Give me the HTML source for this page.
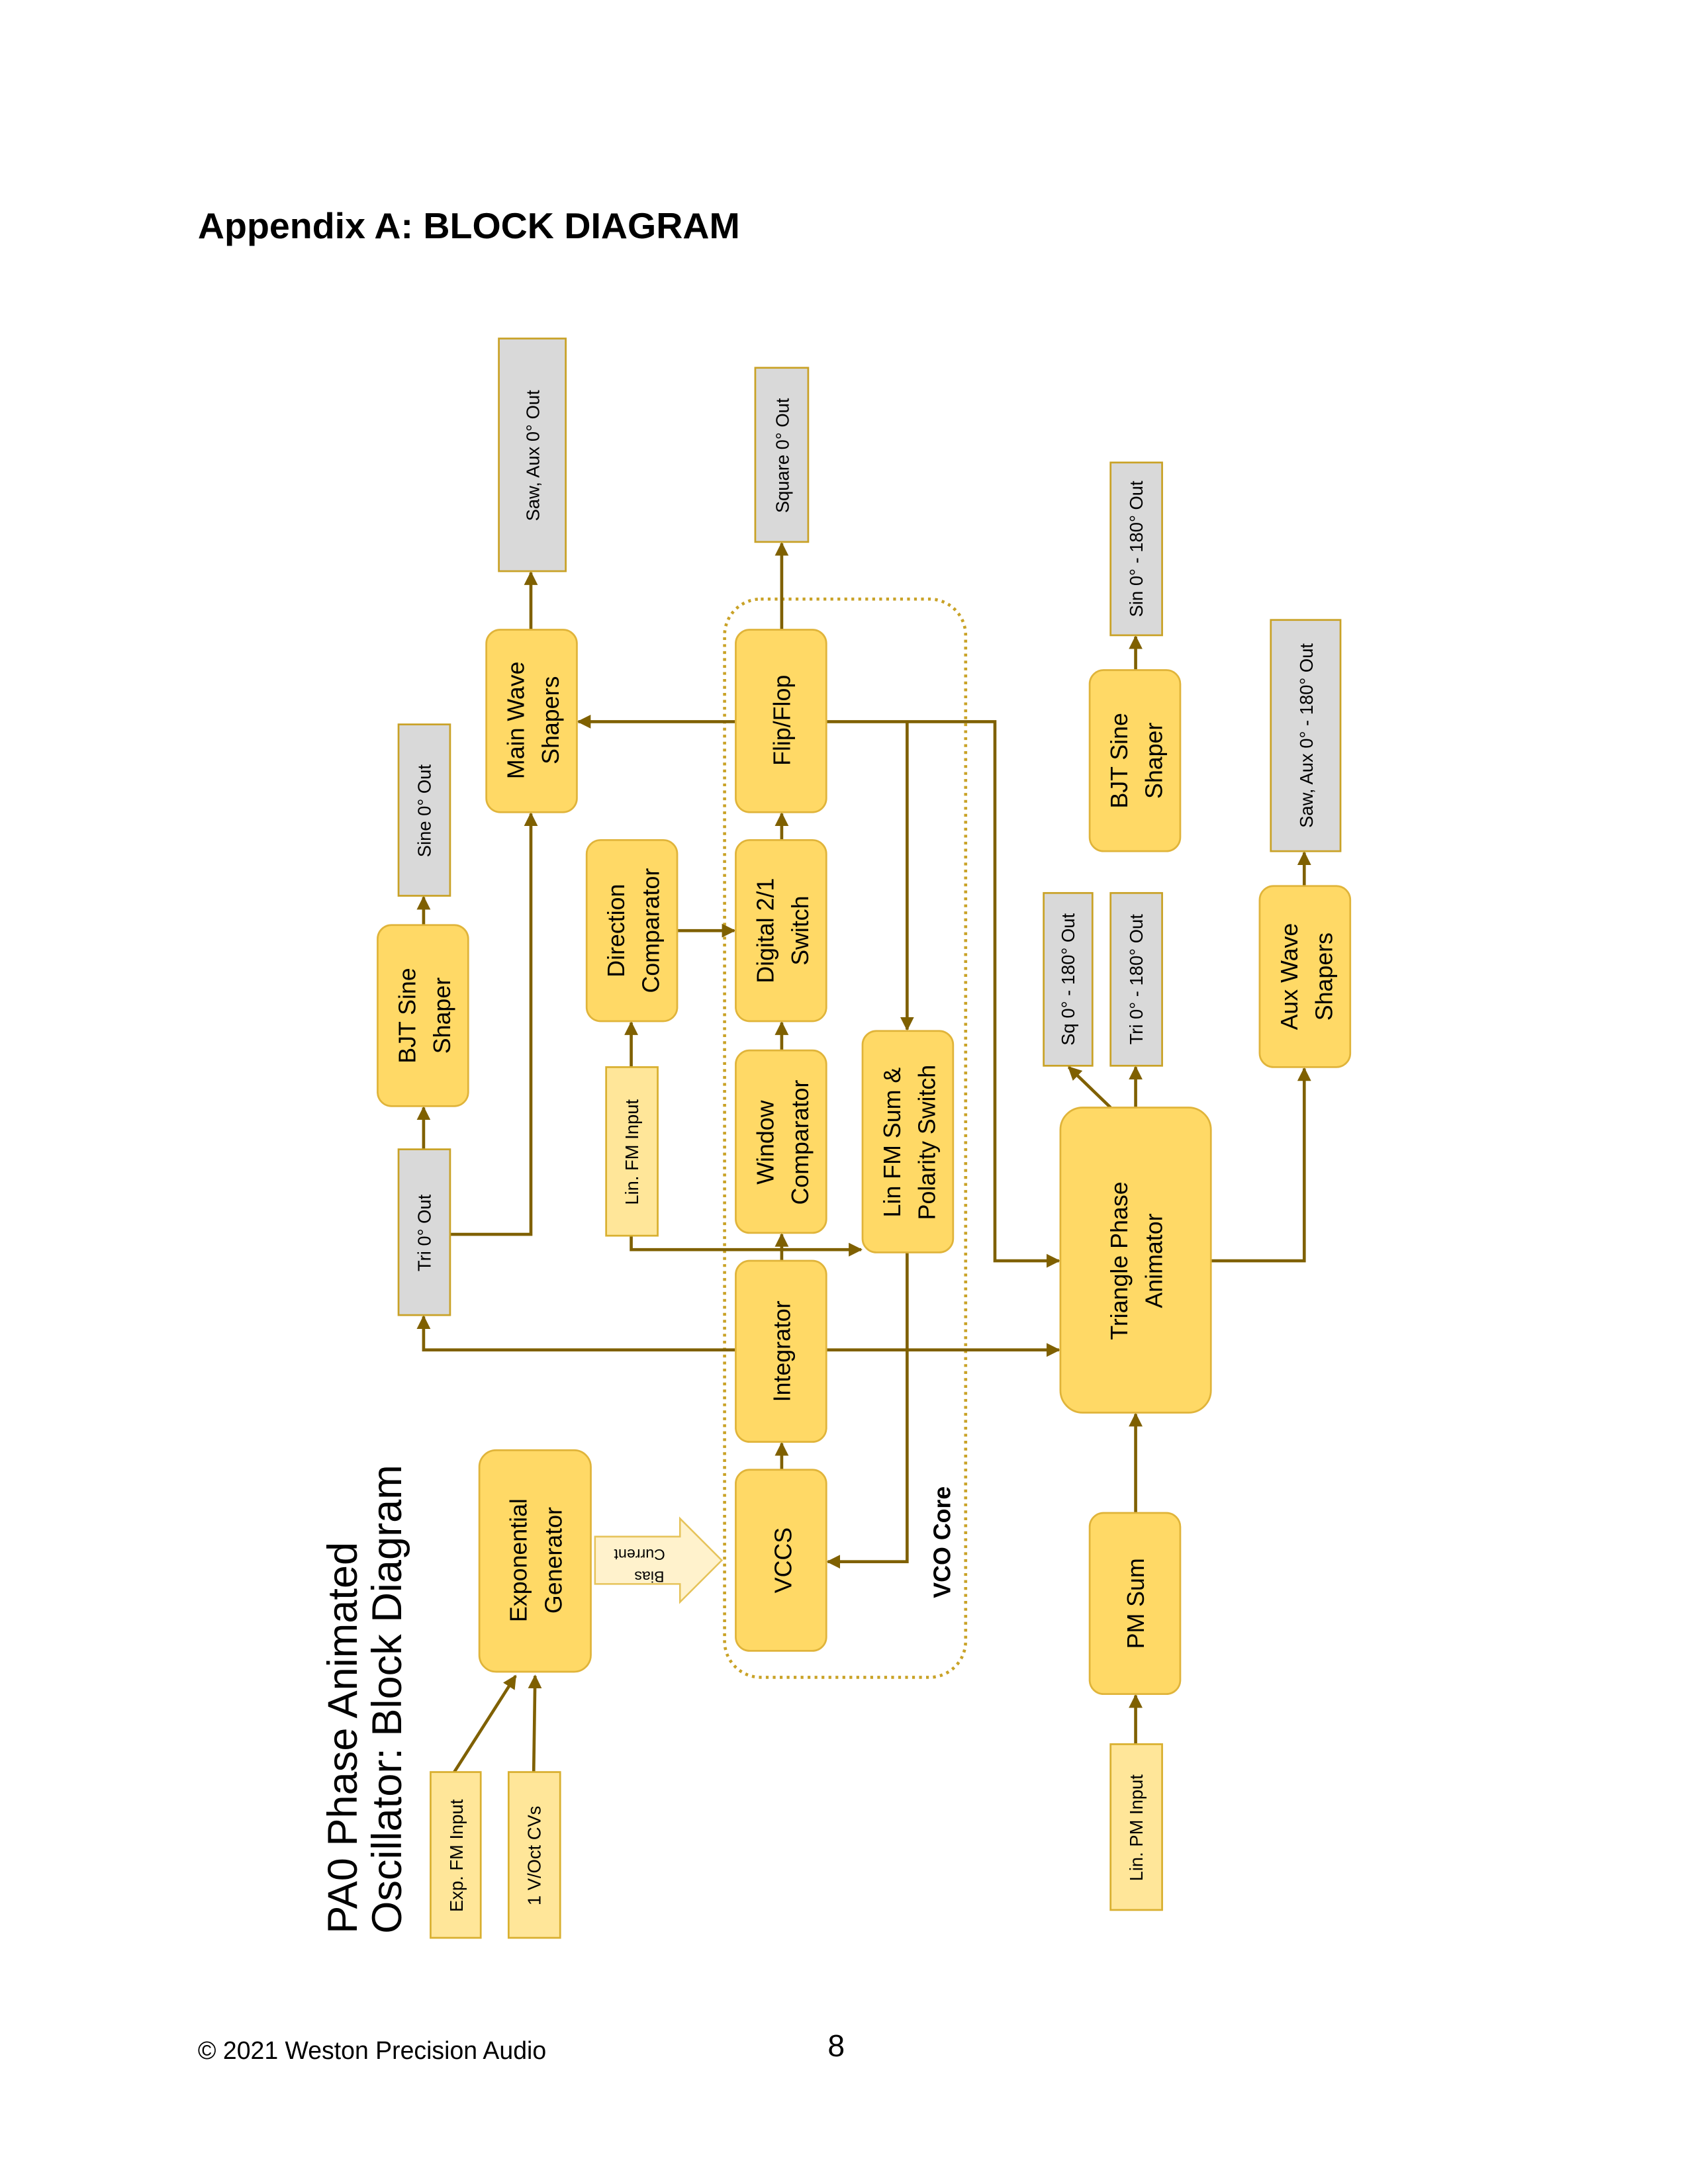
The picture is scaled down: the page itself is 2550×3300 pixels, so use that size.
<!DOCTYPE html>
<html><head><meta charset="utf-8"><style>html,body{margin:0;padding:0;background:#fff}svg{display:block}</style></head>
<body>
<svg width="2550" height="3300" viewBox="0 0 1211.4 1567.7" preserveAspectRatio="none" xmlns="http://www.w3.org/2000/svg" font-family="Liberation Sans, sans-serif">
<defs>
<marker id="a" viewBox="0 0 10 10" refX="9" refY="5" markerWidth="4.5" markerHeight="4.5" orient="auto"><path d="M0,0L10,5L0,10z" fill="#7f6000"/></marker>
</defs>
<text x="142" y="171" font-size="26" font-weight="bold" textLength="389" lengthAdjust="spacingAndGlyphs">Appendix A: BLOCK DIAGRAM</text>
<text x="142" y="1478" font-size="18" textLength="250" lengthAdjust="spacingAndGlyphs">© 2021 Weston Precision Audio</text>
<text x="594" y="1476" font-size="22">8</text>

<!-- VCO core -->
<rect x="520" y="430" width="173" height="774" rx="26" fill="none" stroke="#c9a227" stroke-width="2.2" stroke-dasharray="2,3"/>
<text transform="translate(682,1107) rotate(-90)" font-size="17" font-weight="bold" text-anchor="middle">VCO Core</text>

<!-- title -->
<text transform="translate(256,1388) rotate(-90)" font-size="30">PA0 Phase Animated</text>
<text transform="translate(288,1388) rotate(-90)" font-size="30">Oscillator:  Block Diagram</text>

<g stroke="#7f6000" stroke-width="2.2" fill="none" marker-end="url(#a)">
<line x1="381" y1="452" x2="381" y2="411"/>
<line x1="561" y1="452" x2="561" y2="390"/>
<line x1="815" y1="481" x2="815" y2="457"/>
<line x1="936" y1="636" x2="936" y2="612"/>
<line x1="304" y1="664" x2="304" y2="644"/>
<line x1="304" y1="825" x2="304" y2="795"/>
<polyline points="323,886 381,886 381,584"/>
<line x1="528" y1="518" x2="415" y2="518"/>
<polyline points="593,518 714,518 714,905 760,905"/>
<polyline points="651,518 651,739"/>
<line x1="486" y1="668" x2="527" y2="668"/>
<line x1="561" y1="603" x2="561" y2="584"/>
<line x1="561" y1="754" x2="561" y2="734"/>
<line x1="453" y1="766" x2="453" y2="734"/>
<polyline points="453,887 453,897 618,897"/>
<line x1="561" y1="905" x2="561" y2="886"/>
<polyline points="528,969 304,969 304,945"/>
<line x1="593" y1="969" x2="760" y2="969"/>
<polyline points="651,899 651,1121 594,1121"/>
<line x1="561" y1="1055" x2="561" y2="1036"/>
<line x1="797" y1="795" x2="767" y2="766"/>
<line x1="815" y1="795" x2="815" y2="766"/>
<polyline points="869,905 936,905 936,767"/>
<line x1="815" y1="1086" x2="815" y2="1015"/>
<line x1="815" y1="1252" x2="815" y2="1217"/>
<line x1="326" y1="1272" x2="370" y2="1203"/>
<line x1="383" y1="1272" x2="384" y2="1203"/>
</g>

<!-- bias arrow -->
<path d="M427,1103 L488,1103 L488,1090 L518,1120 L488,1150 L488,1137 L427,1137 Z" fill="#fff2cc" stroke="#e6c35a" stroke-width="1.2"/>
<text transform="translate(459,1112) rotate(180)" font-size="11" text-anchor="middle">Current</text>
<text transform="translate(466,1128) rotate(180)" font-size="11" text-anchor="middle">Bias</text>

<!-- yellow boxes -->
<g fill="#ffd966" stroke="#e0b43a" stroke-width="1.3">
<rect x="349" y="452" width="65" height="131" rx="10"/>
<rect x="528" y="452" width="65" height="131" rx="10"/>
<rect x="782" y="481" width="65" height="130" rx="10"/>
<rect x="271" y="664" width="65" height="130" rx="10"/>
<rect x="421" y="603" width="65" height="130" rx="10"/>
<rect x="528" y="603" width="65" height="130" rx="10"/>
<rect x="904" y="636" width="65" height="130" rx="10"/>
<rect x="528" y="754" width="65" height="131" rx="10"/>
<rect x="619" y="740" width="65" height="159" rx="10"/>
<rect x="761" y="795" width="108" height="219" rx="16"/>
<rect x="528" y="905" width="65" height="130" rx="10"/>
<rect x="344" y="1041" width="80" height="159" rx="12"/>
<rect x="528" y="1055" width="65" height="130" rx="10"/>
<rect x="782" y="1086" width="65" height="130" rx="10"/>
</g>
<g fill="#ffe699" stroke="#d9b030" stroke-width="1.3">
<rect x="435" y="766" width="37" height="121"/>
<rect x="797" y="1252" width="37" height="119"/>
<rect x="309" y="1272" width="36" height="119"/>
<rect x="365" y="1272" width="37" height="119"/>
</g>
<g fill="#d9d9d9" stroke="#c9a227" stroke-width="1.3">
<rect x="358" y="243" width="48" height="167"/>
<rect x="542" y="264" width="38" height="125"/>
<rect x="797" y="332" width="37" height="124"/>
<rect x="912" y="445" width="50" height="166"/>
<rect x="286" y="520" width="37" height="123"/>
<rect x="749" y="641" width="35" height="124"/>
<rect x="797" y="641" width="37" height="124"/>
<rect x="286" y="825" width="37" height="119"/>
</g>

<g font-size="17" text-anchor="middle" fill="#000">
<text transform="translate(376,517) rotate(-90)">Main Wave</text>
<text transform="translate(401,517) rotate(-90)">Shapers</text>
<text transform="translate(567,517) rotate(-90)">Flip/Flop</text>
<text transform="translate(809,546) rotate(-90)">BJT Sine</text>
<text transform="translate(834,546) rotate(-90)">Shaper</text>
<text transform="translate(298,729) rotate(-90)">BJT Sine</text>
<text transform="translate(323,729) rotate(-90)">Shaper</text>
<text transform="translate(448,668) rotate(-90)">Direction</text>
<text transform="translate(473,668) rotate(-90)">Comparator</text>
<text transform="translate(555,668) rotate(-90)">Digital 2/1</text>
<text transform="translate(580,668) rotate(-90)">Switch</text>
<text transform="translate(931,701) rotate(-90)">Aux Wave</text>
<text transform="translate(956,701) rotate(-90)">Shapers</text>
<text transform="translate(555,820) rotate(-90)">Window</text>
<text transform="translate(580,820) rotate(-90)">Comparator</text>
<text transform="translate(646,820) rotate(-90)">Lin FM Sum &amp;</text>
<text transform="translate(671,820) rotate(-90)">Polarity Switch</text>
<text transform="translate(809,905) rotate(-90)">Triangle Phase</text>
<text transform="translate(834,905) rotate(-90)">Animator</text>
<text transform="translate(567,970) rotate(-90)">Integrator</text>
<text transform="translate(378,1120) rotate(-90)">Exponential</text>
<text transform="translate(403,1120) rotate(-90)">Generator</text>
<text transform="translate(568,1120) rotate(-90)">VCCS</text>
<text transform="translate(821,1151) rotate(-90)">PM Sum</text>
</g>
<g font-size="13" text-anchor="middle" fill="#000">
<text transform="translate(387,327) rotate(-90)">Saw, Aux 0° Out</text>
<text transform="translate(566,327) rotate(-90)">Square 0° Out</text>
<text transform="translate(820,394) rotate(-90)">Sin 0° - 180° Out</text>
<text transform="translate(942,528) rotate(-90)">Saw, Aux 0° - 180° Out</text>
<text transform="translate(309,582) rotate(-90)">Sine 0° Out</text>
<text transform="translate(771,703) rotate(-90)">Sq 0° - 180° Out</text>
<text transform="translate(820,703) rotate(-90)">Tri 0° - 180° Out</text>
<text transform="translate(309,885) rotate(-90)">Tri 0° Out</text>
<text transform="translate(458,827) rotate(-90)">Lin. FM Input</text>
<text transform="translate(820,1312) rotate(-90)">Lin. PM Input</text>
<text transform="translate(332,1332) rotate(-90)">Exp. FM Input</text>
<text transform="translate(388,1332) rotate(-90)">1 V/Oct CVs</text>
</g>
</svg>
</body></html>
